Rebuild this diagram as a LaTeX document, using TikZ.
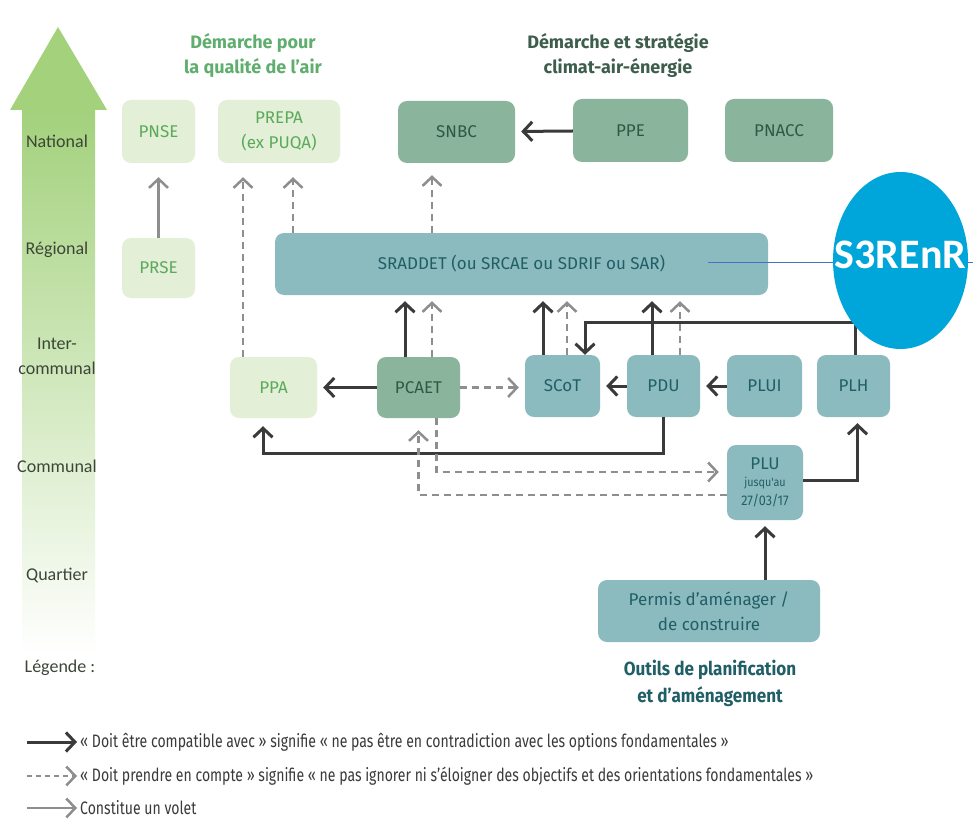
\documentclass[tikz,border=0pt]{standalone}
\usepackage{fontspec}
\setmainfont{Fira Sans}
\newfontfamily\levelfont{Carlito}
\newfontfamily\narrowfont[FakeStretch=0.9]{Fira Sans}
\newfontfamily\legendfont[FakeStretch=0.78]{Fira Sans}
\usetikzlibrary{arrows.meta,shapes.geometric}

\definecolor{lightfill}{HTML}{E3EFD6}
\definecolor{lightink}{HTML}{5BAA5C}
\definecolor{greenfill}{HTML}{8AB49C}
\definecolor{greenink}{HTML}{2E5A44}
\definecolor{tealfill}{HTML}{8BBBBE}
\definecolor{tealink}{HTML}{215F66}
\definecolor{darkarrow}{HTML}{3A3A3A}
\definecolor{greyarrow}{HTML}{8E8E8E}
\definecolor{scalegreen}{HTML}{A3D17C}
\definecolor{scalemid}{HTML}{C6E4AA}
\definecolor{levelink}{HTML}{3C4638}
\definecolor{titlegreen}{HTML}{5FAE6E}
\definecolor{titledark}{HTML}{3D5E4C}
\definecolor{blobfill}{HTML}{00A6DA}
\definecolor{blobline}{HTML}{4472C4}

\begin{document}
\begin{tikzpicture}[x=1pt, y=-1pt,
    box/.style={rounded corners=9pt, inner sep=0pt, align=center,
        font=\fontsize{17}{25}\selectfont},
    lightbox/.style={box, fill=lightfill, text=lightink},
    greenbox/.style={box, fill=greenfill, text=greenink},
    tealbox/.style={box, fill=tealfill, text=tealink},
    level/.style={text=levelink, align=center, font=\levelfont\fontsize{18}{25}\selectfont},
    must/.style={draw=darkarrow, line width=3pt, shorten >=6pt,
        -{Straight Barb[length=9pt, width=19pt]}},
    consider/.style={draw=greyarrow, line width=2.5pt, shorten >=6pt,
        dash pattern=on 7pt off 5pt, -{Straight Barb[length=9pt, width=19pt]}},
    volet/.style={draw=greyarrow, line width=2.5pt, shorten >=6pt,
        -{Straight Barb[length=9pt, width=19pt]}},
    legend/.style={anchor=west, text=darkarrow, inner sep=0pt,
        font=\legendfont\fontsize{18}{20}\selectfont}]

    \fill[white] (0,0) rectangle (973,818);
    \useasboundingbox (0,0) rectangle (973,818);

    % echelle territoriale
    \shade[top color=scalegreen, middle color=scalemid, bottom color=white]
        (22,110) rectangle (95,655);
    \fill[scalegreen] (58,27) -- (107,110) -- (10,110) -- cycle;

    \node[level] (national) at (57,141) {National};
    \node[level] (regional) at (57,250) {Régional};
    \node[level] (intercom) at (57,356) {Inter-\\communal};
    \node[level] (communal) at (57,466) {Communal};
    \node[level] (quartier) at (57,575) {Quartier};
    \node[level] (legende) at (60,668) {Légende :};

    % titres
    \node[text=titlegreen, align=center, font=\bfseries\fontsize{18}{25}\selectfont]
        (airtitle) at (253,55) {Démarche pour\\la qualité de l'air};
    \node[text=titledark, align=center, font=\bfseries\fontsize{18}{25}\selectfont]
        (climtitle) at (618,55) {Démarche et stratégie\\climat-air-énergie};

    % niveau national
    \node[lightbox, minimum width=73pt, minimum height=63pt] (pnse) at (158.5,131.5) {PNSE};
    \node[lightbox, minimum width=122pt, minimum height=63pt] (prepa) at (279,131.5) {PREPA\\(ex PUQA)};
    \node[greenbox, minimum width=117pt, minimum height=62pt] (snbc) at (456.5,132) {SNBC};
    \node[greenbox, minimum width=115pt, minimum height=63pt] (ppe) at (630.5,130.5) {PPE};
    \node[greenbox, minimum width=108pt, minimum height=63pt] (pnacc) at (779,130.5) {PNACC};

    % niveau regional
    \node[lightbox, minimum width=73pt, minimum height=60pt] (prse) at (158.5,268) {PRSE};
    \node[tealbox, minimum width=493pt, minimum height=62pt] (sraddet) at (521.5,264)
        {SRADDET (ou SRCAE ou SDRIF ou SAR)};

    % niveau intercommunal
    \node[lightbox, minimum width=87pt, minimum height=61pt] (ppa) at (273.5,387.5) {PPA};
    \node[greenbox, minimum width=83pt, minimum height=61pt] (pcaet) at (418.5,387.5) {PCAET};
    \node[tealbox, minimum width=75pt, minimum height=62pt] (scot) at (562.5,386) {SCoT};
    \node[tealbox, minimum width=73pt, minimum height=62pt] (pdu) at (663.5,386) {PDU};
    \node[tealbox, minimum width=75pt, minimum height=62pt] (plui) at (764.5,386) {PLUI};
    \node[tealbox, minimum width=73pt, minimum height=62pt] (plh) at (853.5,386) {PLH};

    % niveau communal et quartier
    \node[tealbox, minimum width=76pt, minimum height=75pt] (plu) at (765,482.5)
        {PLU\\[-8pt]{\narrowfont\fontsize{12}{14}\selectfont jusqu'au}\\[-6pt]{\narrowfont\fontsize{14}{16}\selectfont 27/03/17}};
    \node[tealbox, minimum width=222pt, minimum height=62pt] (permis) at (709,611)
        {Permis d’aménager /\\de construire};
    \node[text=tealink, align=center, font=\narrowfont\bfseries\fontsize{19}{27}\selectfont]
        (outils) at (710,683) {Outils de planification\\et d’aménagement};

    % liens
    \path[must]
        (ppe) edge (snbc)
        (pcaet) edge (ppa)
        (pdu) edge (scot)
        (plui) edge (pdu);
    \draw[volet, shorten >=14pt] (prse) -- (pnse);
    \draw[consider, shorten >=14pt] ([xshift=-30.5pt]ppa.north) -- ([xshift=-30.5pt]ppa.north |- prepa.south);
    \draw[consider, shorten >=14pt] ([xshift=14pt]prepa.south |- sraddet.north) -- ([xshift=14pt]prepa.south);
    \draw[consider, shorten >=12pt] ([xshift=-24.5pt]snbc.south |- sraddet.north) -- ([xshift=-24.5pt]snbc.south);
    \draw[must] ([xshift=-13.5pt]pcaet.north) -- ([xshift=-13.5pt]pcaet.north |- sraddet.south);
    \draw[consider] ([xshift=13.5pt]pcaet.north) -- ([xshift=13.5pt]pcaet.north |- sraddet.south);
    \draw[must] ([xshift=-19.5pt]scot.north) -- ([xshift=-19.5pt]scot.north |- sraddet.south);
    \draw[consider] ([xshift=4.5pt]scot.north) -- ([xshift=4.5pt]scot.north |- sraddet.south);
    \draw[must] ([xshift=-11.5pt]pdu.north) -- ([xshift=-11.5pt]pdu.north |- sraddet.south);
    \draw[consider] ([xshift=16.5pt]pdu.north) -- ([xshift=16.5pt]pdu.north |- sraddet.south);
    \draw[consider] (pcaet.east) -- (pcaet.east -| scot.west);
    \draw[must, shorten >=0pt] ([xshift=1.5pt]plh.north) -- ++(0,-32) -| ([xshift=22.5pt]scot.north);
    \draw[must, shorten >=8pt] (pdu.south) -- ++(0,36) -| ([xshift=-10.5pt]ppa.south);
    \draw[must] ([yshift=2pt]plu.east) -| ([xshift=4pt]plh.south);
    \draw[must] (plu.south |- permis.north) -- (plu.south);
    \draw[consider, shorten >=8pt] ([xshift=18pt]pcaet.south) |- ([yshift=10.5pt]plu.west);
    \draw[consider, shorten >=12pt] ([yshift=-12.5pt]plu.west) -| (pcaet.south);

    % S3REnR
    \coordinate (blobstart) at (708,262);
    \coordinate (blobend) at (973,262);
    \draw[blobline, line width=1pt] (blobstart) -- (blobend);
    \node[ellipse, fill=blobfill, inner sep=0pt, minimum width=135pt, minimum height=177pt]
        (s3renr) at (900.5,260.5) {};
    \node[text=white, inner sep=0pt, font=\levelfont\bfseries\fontsize{42}{44}\selectfont]
        (s3renrtext) at (900.5,255) {S3REnR};

    % legende
    \node[legend] (leg1) at (80,742)
        {« Doit être compatible avec » signifie « ne pas être en contradiction avec les options fondamentales »};
    \node[legend] (leg2) at (80,776)
        {« Doit prendre en compte » signifie « ne pas ignorer ni s’éloigner des objectifs et des orientations fondamentales »};
    \node[legend] (leg3) at (80,808) {Constitue un volet};
    \coordinate (leg1start) at (27,742);
    \coordinate (leg2start) at (27,776);
    \coordinate (leg3start) at (27,808);
    \draw[must, shorten >=3pt] (leg1start) -- (leg1);
    \draw[consider, shorten >=3pt, dash pattern=on 5pt off 4pt] (leg2start) -- (leg2);
    \draw[volet, shorten >=3pt] (leg3start) -- (leg3);
\end{tikzpicture}
\end{document}
